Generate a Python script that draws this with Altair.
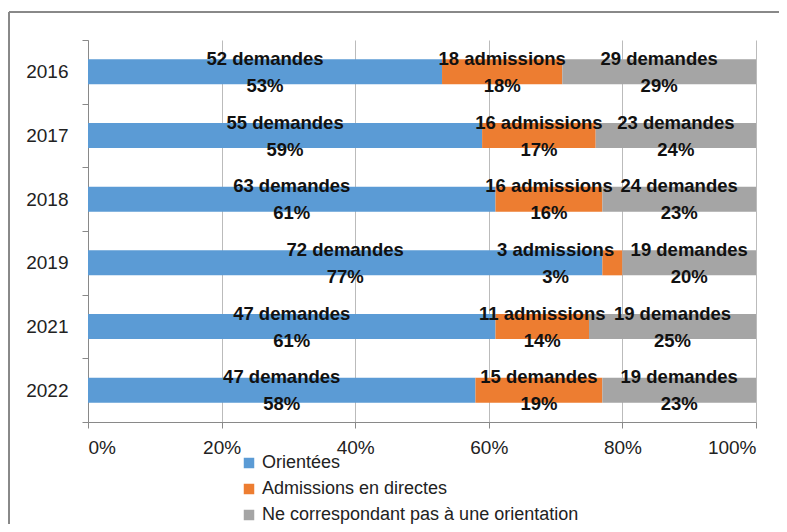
import altair as alt
import pandas as pd

years = ["2016", "2017", "2018", "2019", "2021", "2022"]
series = ["Orientées", "Admissions en directes", "Ne correspondant pas à une orientation"]
pct_orientees = [53, 59, 61, 77, 61, 58]
pct_admissions = [18, 17, 16, 3, 14, 19]
pct_ne = [29, 24, 23, 20, 25, 23]
lbl_orientees = ["52 demandes", "55 demandes", "63 demandes", "72 demandes", "47 demandes", "47 demandes"]
lbl_admissions = ["18 admissions", "16 admissions", "16 admissions", "3 admissions", "11 admissions", "15 demandes"]
lbl_ne = ["29 demandes", "23 demandes", "24 demandes", "19 demandes", "19 demandes", "19 demandes"]
colors = ["#5B9BD5", "#ED7D31", "#A5A5A5"]

rows = []
for s_i, (name, pcts, lbls) in enumerate(zip(series, [pct_orientees, pct_admissions, pct_ne],
                                             [lbl_orientees, lbl_admissions, lbl_ne])):
    for y, p, l in zip(years, pcts, lbls):
        rows.append({"year": y, "series": name, "order": s_i, "pct": p, "count": l, "pctlabel": f"{p}%"})
df = pd.DataFrame(rows)

FONT = "Liberation Sans"

base = alt.Chart(df).transform_stack(
    stack="pct", as_=["x0", "x1"], groupby=["year"], sort=[alt.SortField("order")]
).transform_calculate(
    mid="(datum.x0 + datum.x1) / 2 - ((datum.pct < 6) ? 8.5 : 0)"
)

yenc = alt.Y("year:N", sort=years, title=None,
             scale=alt.Scale(paddingInner=0, paddingOuter=0),
             axis=alt.Axis(tickBand="extent", domainColor="#898989", tickColor="#898989",
                           tickSize=6, labelFontSize=19, labelColor="#222222",
                           labelFont=FONT, labelPadding=14, grid=False))

bars = base.mark_bar(size=25).encode(
    x=alt.X("x0:Q", scale=alt.Scale(domain=[0, 100]), title=None,
            axis=alt.Axis(values=[0, 20, 40, 60, 80, 100], labelExpr="datum.value + '%'",
                          grid=True, gridColor="#BBBBBB", domainColor="#898989",
                          tickColor="#898989", tickSize=6, labelFontSize=19,
                          labelFont=FONT, labelColor="#222222", labelPadding=10)),
    x2="x1:Q",
    y=yenc,
    color=alt.Color("series:N", sort=series,
                    scale=alt.Scale(domain=series, range=colors),
                    legend=alt.Legend(title=None, orient="none", legendX=152, legendY=414,
                                      direction="vertical", symbolType="square", symbolSize=110,
                                      symbolStrokeWidth=0, labelFontSize=18, labelFont=FONT,
                                      labelColor="#222222", rowPadding=8, symbolOffset=0,
                                      labelOffset=4, labelLimit=500)),
    order=alt.Order("order:Q"),
)

t1 = base.mark_text(fontSize=18.5, fontWeight="bold", font=FONT, color="#111111", dy=-13).encode(
    x="mid:Q", y=alt.Y("year:N", sort=years), text="count:N")
t2 = base.mark_text(fontSize=18.5, fontWeight="bold", font=FONT, color="#111111", dy=14).encode(
    x="mid:Q", y=alt.Y("year:N", sort=years), text="pctlabel:N")

frame_top = alt.Chart(df).mark_rule(color="#888888", strokeWidth=1).encode(
    x=alt.value(-79), x2=alt.value(700), y=alt.value(-28))
frame_left = alt.Chart(df).mark_rule(color="#888888", strokeWidth=1).encode(
    x=alt.value(-79), y=alt.value(-28), y2=alt.value(500))

chart = alt.layer(bars, t1, t2, frame_top, frame_left).properties(
    width=668, height=382,
    padding={"left": 80, "top": 32, "right": 23, "bottom": 102},
    autosize=alt.AutoSizeParams(type="none"),
).configure_view(stroke=None)

chart.save("out.html", embed_options={"renderer": "svg", "actions": False})
